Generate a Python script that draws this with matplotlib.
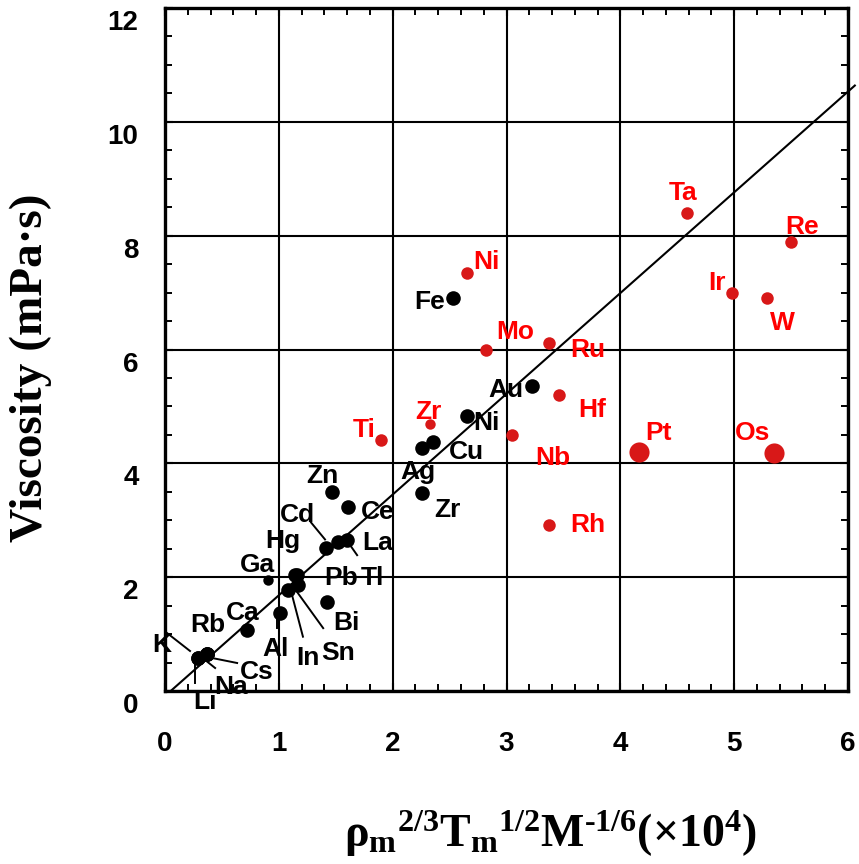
import matplotlib
matplotlib.use("Agg")
import matplotlib.pyplot as plt
from matplotlib.ticker import MultipleLocator
from matplotlib.transforms import ScaledTranslation
from matplotlib.lines import Line2D

# ---- data -------------------------------------------------------------
# group 1 (black)
black_el = ["Li", "K", "Na", "Cs", "Rb", "Ca", "Al", "In", "Sn", "Pb", "Tl",
            "Bi", "Ga", "Hg", "Cd", "La", "Ce", "Zn", "Fe", "Au", "Ni", "Cu",
            "Ag", "Zr"]
black_x = [0.29, 0.29, 0.37, 0.37, 0.37, 0.72, 1.01, 1.08, 1.17, 1.14, 1.16,
           1.42, 0.905, 1.41, 1.52, 1.60, 1.61, 1.47, 2.53, 3.22, 2.65, 2.35,
           2.26, 2.26]
black_y = [0.58, 0.58, 0.65, 0.65, 0.65, 1.07, 1.37, 1.78, 1.86, 2.04, 2.03,
           1.56, 1.95, 2.51, 2.61, 2.65, 3.23, 3.50, 6.91, 5.36, 4.83, 4.38,
           4.27, 3.48]

# group 2 (red)
red_el = ["Ni", "Mo", "Ru", "Hf", "Zr", "Nb", "Rh", "Ti", "Ta", "Re", "Ir",
          "W", "Pt", "Os"]
red_x = [2.65, 2.82, 3.37, 3.46, 2.33, 3.05, 3.37, 1.90, 4.59, 5.50, 4.98,
         5.29, 4.16, 5.35]
red_y = [7.35, 5.99, 6.12, 5.20, 4.69, 4.50, 2.92, 4.41, 8.40, 7.89, 6.99,
         6.91, 4.20, 4.18]

# linear fit  y = slope * (x - x_intercept)
fit_slope = 1.77
fit_x_intercept = 0.05
fit_x_end = 6.06

x_ticks = [0, 1, 2, 3, 4, 5, 6]
y_ticks = [0, 2, 4, 6, 8, 10, 12]

# ---- styling ----------------------------------------------------------
DPI = 100
PX = 72.0 / DPI          # points per pixel
SANS = "Liberation Sans"
SERIF = "Liberation Serif"
RED_TEXT = "#ff0000"
RED_DOT = "#d81818"

plt.rcParams["mathtext.fontset"] = "custom"
plt.rcParams["mathtext.rm"] = "Liberation Serif:bold"
plt.rcParams["mathtext.it"] = "Liberation Serif:bold"
plt.rcParams["mathtext.bf"] = "Liberation Serif:bold"

# label offsets from the point, in pixels (right, down)
black_lbl = {
    "Li": (7, 44), "K": (-36, -13), "Na": (24, 33), "Cs": (50, 18),
    "Rb": (1, -29), "Ca": (-4, -17), "Al": (-4, 36), "In": (20, 68),
    "Sn": (40, 68), "Pb": (46, 3), "Tl": (75, 3), "Bi": (20, 21),
    "Ga": (-11, -15), "Hg": (-43, -7), "Cd": (-41, -27), "La": (30, 3),
    "Ce": (29, 5), "Zn": (-10, -16), "Fe": (-23, 4), "Au": (-26, 4),
    "Ni": (20, 7), "Cu": (34, 10), "Ag": (-4, 24), "Zr": (25, 17),
}
red_lbl = {
    "Ni": (20, -11), "Mo": (29, -18), "Ru": (39, 7), "Hf": (33, 15),
    "Zr": (-2, -12), "Nb": (41, 23), "Rh": (39, 0), "Ti": (-17, -10),
    "Ta": (-4, -20), "Re": (11, -15), "Ir": (-15, -10), "W": (15, 25),
    "Pt": (20, -19), "Os": (-21, -20),
}
# leader lines: element -> (dx1, dy1, dx2, dy2) in pixels from the point
leaders = {
    "K": (-31, -25, -8, -7), "Li": (-3, 7, -3, 25), "Na": (-2, 6, 8, 14),
    "Cs": (5, 4, 30, 9), "Al": (-3, 5, -3, 15), "In": (4, 5, 15, 47),
    "Sn": (-1, 7, 25, 43), "Cd": (-27, -20, -13, -3), "La": (3, 5, 10, 15),
}
black_ms = {"Ga": 7.5}
red_ms = {"Zr": 7.5, "Pt": 14.5, "Os": 14.5}

fig = plt.figure(figsize=(8.59, 8.64), dpi=DPI)
ax = fig.add_axes([165 / 859, 1 - 691 / 864, 683 / 859, 683 / 864])

ax.set_xlim(0, 6)
ax.set_ylim(0, 12)
ax.xaxis.set_major_locator(MultipleLocator(1))
ax.xaxis.set_minor_locator(MultipleLocator(0.2))
ax.yaxis.set_major_locator(MultipleLocator(2))
ax.yaxis.set_minor_locator(MultipleLocator(0.5))
ax.set_xticks(x_ticks)
ax.set_yticks(y_ticks)
ax.set_xticklabels([str(v) for v in x_ticks])
ax.set_yticklabels([str(v) for v in y_ticks])

ax.grid(True, which="major", color="black", lw=1.5, zorder=0)
ax.set_axisbelow(True)
for s in ax.spines.values():
    s.set_linewidth(2.4)
ax.tick_params(which="both", direction="in", top=True, right=True,
               color="black")
ax.tick_params(which="major", length=6, width=1.5)
ax.tick_params(which="minor", length=5, width=1.4)
ax.tick_params(axis="x", which="major", pad=29)
ax.tick_params(axis="y", which="major", pad=19)
for lab in ax.get_xticklabels() + ax.get_yticklabels():
    lab.set_fontfamily(SANS)
    lab.set_fontweight("bold")
    lab.set_fontsize(20)
shift = ScaledTranslation(0, -12 / DPI, fig.dpi_scale_trans)
for lab in ax.get_yticklabels():
    lab.set_transform(lab.get_transform() + shift)

# fit line
fx = [fit_x_intercept, fit_x_end]
fy = [fit_slope * (v - fit_x_intercept) for v in fx]
ax.plot(fx, fy, color="black", lw=1.5, clip_on=False, zorder=2)


def place(names, xs, ys, color, dot_color, ms_default, ms_over, lbl):
    for n, x, y in zip(names, xs, ys):
        ms = ms_over.get(n, ms_default)
        ax.plot([x], [y], "o", ms=ms, color=dot_color, mec="none", zorder=4)
        dx, dy = lbl[n]
        ax.annotate(n, (x, y), xytext=(dx * PX, -dy * PX),
                    textcoords="offset points", ha="center", va="center",
                    fontsize=19, fontweight="bold", family=SANS,
                    color=color, zorder=5)


place(black_el, black_x, black_y, "black", "black", 10.5, black_ms, black_lbl)
place(red_el, red_x, red_y, RED_TEXT, RED_DOT, 9.0, red_ms, red_lbl)

for n, x, y in zip(black_el, black_x, black_y):
    if n in leaders:
        dx1, dy1, dx2, dy2 = leaders[n]
        tr = fig.dpi_scale_trans + ScaledTranslation(x, y, ax.transData)
        ax.add_line(Line2D([dx1 / DPI, dx2 / DPI], [-dy1 / DPI, -dy2 / DPI],
                           transform=tr, color="black", lw=1.4,
                           clip_on=False, zorder=3))

fig.text(31 / 859, 1 - 368 / 864, "Viscosity (mPa\u00b7s)", rotation=90,
         ha="center", va="center", family=SERIF, fontweight="bold",
         fontsize=34)
fig.text(550 / 859, 1 - 834 / 864,
         r"$\mathrm{\rho_m{}^{2/3}T_m{}^{1/2}M^{\text{-}1/6}(\times10^4)}$",
         ha="center", va="center", fontsize=33)

fig.savefig("out.png", dpi=DPI)
